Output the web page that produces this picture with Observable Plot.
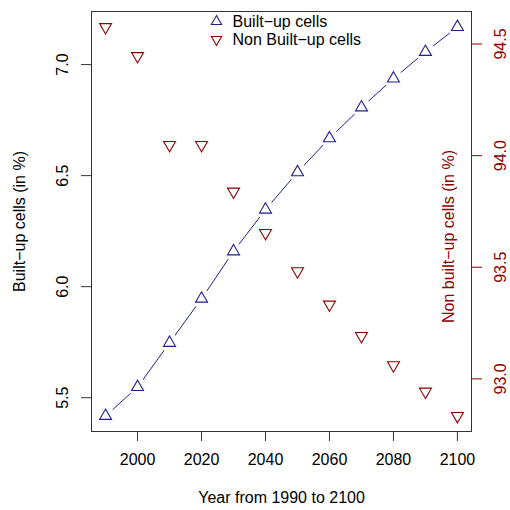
<!DOCTYPE html>
<html>
<head>
<meta charset="utf-8">
<script src="https://cdn.jsdelivr.net/npm/d3@7"></script>
<script src="https://cdn.jsdelivr.net/npm/@observablehq/plot@0.6"></script>
<style>
  html, body { margin: 0; padding: 0; background: #fff; }
</style>
</head>
<body>
<div id="chart"></div>
<script>
const years = [1990, 2000, 2010, 2020, 2030, 2040, 2050, 2060, 2070, 2080, 2090, 2100];
const builtUp = [5.418, 5.548, 5.747, 5.946, 6.159, 6.347, 6.515, 6.668, 6.807, 6.937, 7.057, 7.169];
const nonBuiltUp = [94.576, 94.446, 94.048, 94.048, 93.839, 93.654, 93.482, 93.333, 93.192, 93.061, 92.943, 92.834];
const xTicks = [2000, 2020, 2040, 2060, 2080, 2100];
const leftTicks = [5.5, 6.0, 6.5, 7.0];
const rightTicks = [93.0, 93.5, 94.0, 94.5];
const legendLabels = ["Built\u2212up cells", "Non Built\u2212up cells"];
const xTitle = "Year from 1990 to 2100";
const leftTitle = "Built\u2212up cells (in %)";
const rightTitle = "Non built\u2212up cells (in %)";

const blue = "#1f1f8f";
const red = "#8b0000";
const font = "'Liberation Sans', Arial, sans-serif";

// R-style 4% padded domains
function pad(vals) {
  const [a, b] = d3.extent(vals);
  const r = b - a;
  return [a - 0.04 * r, b + 0.04 * r];
}
const xDom = pad(years);
const yDom = pad(builtUp);
const y2Dom = pad(nonBuiltUp);
// map right-axis values into the left y scale
const toLeft = d3.scaleLinear(y2Dom, yDom);

const data = years.map((yr, i) => ({year: yr, built: builtUp[i], non: toLeft(nonBuiltUp[i])}));

const chart = Plot.plot({
  width: 510,
  height: 510,
  marginLeft: 91,
  marginRight: 39,
  marginTop: 11,
  marginBottom: 79,
  style: {fontFamily: font, fontSize: "16px", background: "#fff", color: "#000"},
  x: {domain: xDom},
  y: {domain: yDom},
  marks: [
    Plot.axisX({ticks: xTicks, tickSize: 10, tickPadding: 12, tickFormat: d => String(d), label: null, fontSize: 16, stroke: "#333"}),
    Plot.axisY({ticks: leftTicks, tickSize: 10, tickFormat: () => "", label: null, stroke: "#333"}),
    Plot.text(leftTicks, {y: d => d, frameAnchor: "left", dx: -29, rotate: -90, text: d => d.toFixed(1), fontSize: 16, textAnchor: "middle", lineAnchor: "middle", fill: "#000"}),
    Plot.axisY({anchor: "right", ticks: rightTicks.map(toLeft), tickSize: 10, tickFormat: () => "", label: null, stroke: red}),
    Plot.text(rightTicks, {y: d => toLeft(d), frameAnchor: "right", dx: 29, rotate: -90, text: d => d.toFixed(1), fontSize: 16, textAnchor: "middle", lineAnchor: "middle", fill: red}),
    Plot.frame({stroke: "#333", strokeWidth: 1}),
    Plot.line(data, {x: "year", y: "built", stroke: blue, strokeWidth: 1}),
    Plot.dot(data, {x: "year", y: "built", r: 9.5, fill: "white", stroke: null}),
    Plot.dot(data, {x: "year", y: "non", symbol: "triangle", rotate: 180, r: 4.45, stroke: red, strokeWidth: 1.1, fill: "none"}),
    Plot.dot(data, {x: "year", y: "built", symbol: "triangle", r: 4.45, stroke: blue, strokeWidth: 1.1, fill: "none"}),
    // legend
    Plot.dot([legendLabels[0]], {frameAnchor: "top-left", dx: 125, dy: 10, symbol: "triangle", r: 3.8, stroke: blue, strokeWidth: 1.1, fill: "none"}),
    Plot.dot([legendLabels[1]], {frameAnchor: "top-left", dx: 125, dy: 28, symbol: "triangle", rotate: 180, r: 3.8, stroke: red, strokeWidth: 1.1, fill: "none"}),
    Plot.text([legendLabels[0]], {frameAnchor: "top-left", dx: 141, dy: 10, text: d => d, textAnchor: "start", lineAnchor: "middle", fontSize: 16, fill: "#000"}),
    Plot.text([legendLabels[1]], {frameAnchor: "top-left", dx: 141, dy: 28, text: d => d, textAnchor: "start", lineAnchor: "middle", fontSize: 16, fill: "#000"}),
    // axis titles
    Plot.text([xTitle], {frameAnchor: "bottom", dy: 66, text: d => d, fontSize: 16, lineAnchor: "middle", fill: "#000"}),
    Plot.text([leftTitle], {frameAnchor: "left", dx: -72, rotate: -90, text: d => d, fontSize: 16, lineAnchor: "middle", textAnchor: "middle", fill: "#000"}),
    Plot.text([rightTitle], {frameAnchor: "right", dx: -23, dy: 15, rotate: -90, text: d => d, fontSize: 16, lineAnchor: "middle", textAnchor: "middle", fill: red})
  ]
});
document.getElementById("chart").appendChild(chart);
</script>
</body>
</html>
